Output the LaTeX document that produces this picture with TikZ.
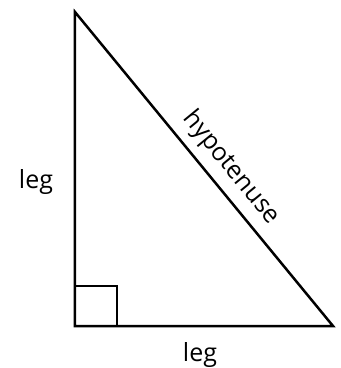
\documentclass[tikz,border=0pt]{standalone}
\usepackage{fontspec}
\setmainfont{Open Sans}
\usetikzlibrary{positioning,calc}

\begin{document}
\begin{tikzpicture}[x=1pt, y=1pt,
    every node/.style={font=\fontsize{25}{28}\selectfont},
    side/.style={draw=black, line width=2.5pt, line join=miter},
    corner/.style={draw=black, line width=2.5pt}]
  \useasboundingbox (0,0) rectangle (341,368);
  % Vertices
  \coordinate (top) at (75,356);
  \coordinate (right) at (333,42);
  \coordinate (origin) at (75,42);
  % Triangle
  \draw[side] (top) -- (origin) -- (right) -- cycle;
  \draw[corner] (origin) rectangle ++(42,40);
  % Labels
  \node (legLeft) at (36,186) {leg};
  \node (legBottom) at (200,13) {leg};
  \path (top) -- node[pos=0.54, sloped, above, inner sep=9pt] (hyp) {hypotenuse} (right);
\end{tikzpicture}
\end{document}
